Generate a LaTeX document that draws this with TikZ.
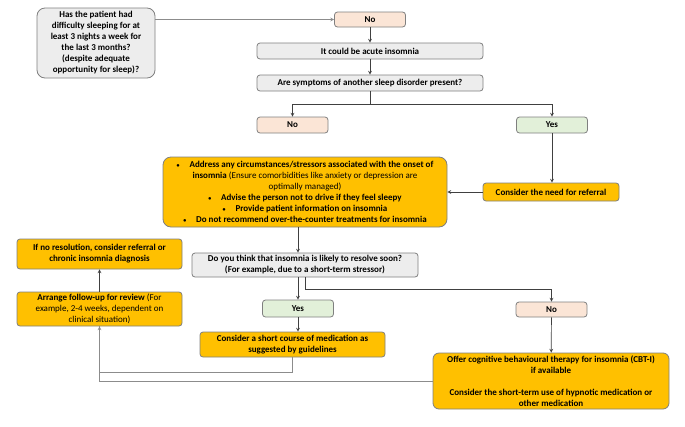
\documentclass[tikz,border=0pt]{standalone}
\usepackage{fontspec}
\setmainfont{Carlito}
\usetikzlibrary{positioning}
\definecolor{boxgray}{HTML}{EDEDED}
\definecolor{edgegray}{HTML}{7F7F7F}
\definecolor{peach}{HTML}{FBE5D6}
\definecolor{mint}{HTML}{E2F0D9}
\definecolor{amber}{HTML}{FFC000}
\definecolor{linegray}{HTML}{404040}
\definecolor{softgray}{HTML}{8C8C8C}
\newcommand{\bul}{{\fontsize{6}{6}\selectfont\raisebox{0.4pt}{•}}\hspace{1.1em}}

\begin{document}
\begin{tikzpicture}[
    x=1pt, y=-1pt,
    fbox/.style={rectangle, draw=edgegray, line width=0.8pt, rounded corners=3pt, align=center, inner sep=1pt, font=\fontsize{9}{11}\selectfont\bfseries},
    qbox/.style={fbox, fill=boxgray},
    nobox/.style={fbox, fill=peach, minimum width=71pt, minimum height=16pt},
    yesbox/.style={fbox, fill=mint, minimum width=71pt, minimum height=16pt},
    actbox/.style={fbox, fill=amber},
    call/.style={->, >=stealth, draw=linegray, line width=0.7pt},
    link/.style={draw=softgray, line width=0.8pt}
]
    \useasboundingbox (0,0) rectangle (685,426);

    % Questions and answers
    \node[qbox, rounded corners=8pt, minimum width=118pt, minimum height=70pt] (q1) at (96,43)
        {Has the patient had\\difficulty sleeping for at\\least 3 nights a week for\\the last 3 months?\\(despite adequate\\opportunity for sleep)?};
    \node[nobox, minimum height=15pt] (no1) at (370,19.5) {No};
    \node[qbox, minimum width=226pt, minimum height=16pt] (acute) at (370,51) {It could be acute insomnia};
    \node[qbox, minimum width=226pt, minimum height=16pt] (other) at (370,83) {Are symptoms of another sleep disorder present?};
    \node[nobox] (no2) at (292.5,125) {No};
    \node[yesbox] (yes1) at (552,125) {Yes};
    \node[actbox, minimum width=136pt, minimum height=18pt] (refer) at (551,192) {Consider the need for referral};
    \node[actbox, rounded corners=8pt, minimum width=284pt, minimum height=70pt] (advice) at (305,192)
        {\bul Address any circumstances/stressors associated with the onset of\\
         insomnia {\mdseries(Ensure comorbidities like anxiety or depression are}\\
         {\mdseries optimally managed)}\\
         \bul Advise the person not to drive if they feel sleepy\\
         \bul Provide patient information on insomnia\\
         \bul Do not recommend over-the-counter treatments for insomnia};
    \node[qbox, minimum width=226pt, minimum height=24pt] (resolve) at (305,265)
        {Do you think that insomnia is likely to resolve soon?\\(For example, due to a short-term stressor)};
    \node[yesbox, minimum height=17pt] (yes2) at (298,308.5) {Yes};
    \node[nobox, minimum height=15pt] (no3) at (551.5,309.5) {No};
    \node[actbox, minimum width=185pt, minimum height=25pt] (course) at (292.5,344.5)
        {Consider a short course of medication as\\suggested by guidelines};
    \node[actbox, rounded corners=6pt, minimum width=236pt, minimum height=56pt] (cbt) at (551,381)
        {Offer cognitive behavioural therapy for insomnia (CBT-I)\\if available\\[11pt]
         Consider the short-term use of hypnotic medication or\\other medication};
    \node[actbox, minimum width=165pt, minimum height=34pt] (followup) at (99.5,309)
        {Arrange follow-up for review {\mdseries(For}\\{\mdseries example, 2-4 weeks, dependent on}\\{\mdseries clinical situation)}};
    \node[actbox, minimum width=165pt, minimum height=30pt] (nores) at (99.5,254)
        {If no resolution, consider referral or\\chronic insomnia diagnosis};

    % Connectors
    \draw[call, draw=softgray] (q1.east |- no1.west) -- (no1.west);
    \draw[call] (no1) -- (acute);
    \draw[call] (acute) -- (other);
    \coordinate (split) at (370,104);
    \draw[call, -] (other) -- (split);
    \draw[call] (split) -| (no2);
    \draw[call] (split) -| (yes1);
    \draw[call] (yes1.south) -- (yes1.south |- refer.north);
    \draw[call] (refer) -- (advice);
    \draw[call] (advice.south -| yes2) -- (resolve.north -| yes2);
    \draw[call] (resolve.south -| yes2) -- (yes2);
    \coordinate (fork) at (305,289);
    \draw[call, -] (resolve.south) -- (fork);
    \draw[call] (fork) -| (no3);
    \draw[call] (yes2.south) -- (yes2.south |- course.north);
    \draw[call] (no3) -- (cbt);
    \draw[call, draw=softgray] (course.south) -- ++(0,15) -| (followup.south);
    \draw[link] (cbt.west) -| (followup.south);
    \draw[call] (followup) -- (nores);
\end{tikzpicture}
\end{document}
